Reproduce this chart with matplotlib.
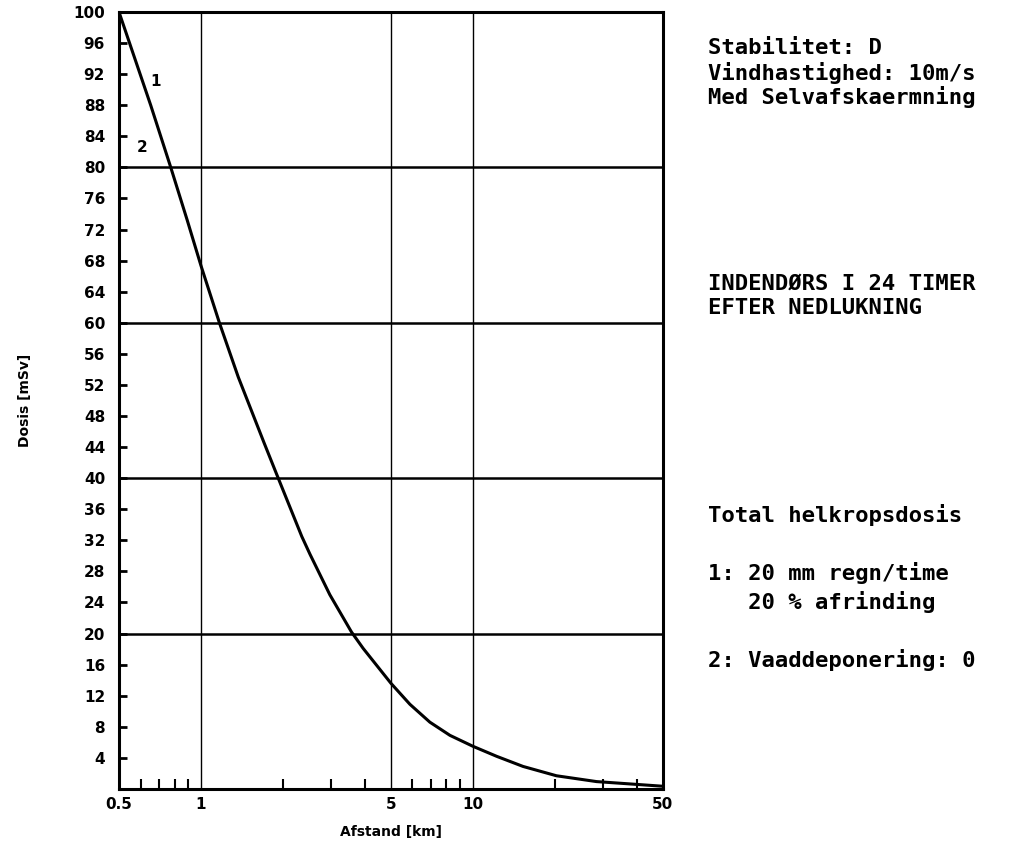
import matplotlib
matplotlib.use('Agg')
import matplotlib.pyplot as plt
from matplotlib.ticker import FixedLocator, NullFormatter

# distance [km] and total dose [mSv]
afstand = [0.5, 0.654, 0.775, 0.891, 1.0, 1.17, 1.373, 1.71, 1.9, 2.35,
           2.52, 2.98, 3.58, 3.95, 5.0, 5.87, 6.95, 8.24, 10.0, 12.24,
           15.3, 20.3, 28.5, 37.8, 50.0]
dosis = [100, 88, 80, 73.2, 67.4, 60, 53.0, 44.5, 40.5, 32.5,
         30.2, 25.0, 20.2, 18.1, 13.6, 10.9, 8.6, 6.9, 5.5, 4.2,
         2.9, 1.7, 0.95, 0.65, 0.35]

x_major = [0.5, 1, 5, 10, 50]
x_major_labels = ['0.5', '1', '5', '10', '50']
x_minor = [0.6, 0.7, 0.8, 0.9, 2, 3, 4, 6, 7, 8, 9, 20, 30, 40]
y_ticks = list(range(4, 101, 4))
h_lines = [20, 40, 60, 80]
v_lines = [1, 5, 10]

info_top = ['Stabilitet: D', 'Vindhastighed: 10m/s', 'Med Selvafskaermning']
info_mid = ['INDENDØRS I 24 TIMER', 'EFTER NEDLUKNING']
info_low = ['Total helkropsdosis', '', '1: 20 mm regn/time',
            '   20 % afrinding', '', '2: Vaaddeponering: 0']


def main():
    fig = plt.figure(figsize=(10.11, 8.5), dpi=100)
    ax = fig.add_axes([0.1177, 0.0718, 0.538, 0.9141])

    ax.set_xscale('log')
    ax.set_xlim(0.5, 50)
    ax.set_ylim(0, 100)

    for y in h_lines:
        ax.axhline(y, color='black', lw=1.8, zorder=1)
    for x in v_lines:
        ax.axvline(x, color='black', lw=1.0, zorder=1)

    ax.plot(afstand, dosis, color='black', lw=2.2, zorder=3,
            solid_joinstyle='round')

    ax.text(0.68, 91, '1', fontsize=11, fontweight='bold', ha='center', va='center')
    ax.text(0.61, 82.5, '2', fontsize=11, fontweight='bold', ha='center', va='center')

    for s in ax.spines.values():
        s.set_linewidth(2.2)

    ax.xaxis.set_major_locator(FixedLocator(x_major))
    ax.set_xticklabels(x_major_labels, fontsize=11, fontweight='bold')
    ax.xaxis.set_minor_locator(FixedLocator(x_minor))
    ax.xaxis.set_minor_formatter(NullFormatter())
    ax.tick_params(axis='x', which='major', direction='in', length=0, pad=6)
    ax.tick_params(axis='x', which='minor', direction='in', length=7, width=1.5)

    ax.set_yticks(y_ticks)
    ax.set_yticklabels([str(v) for v in y_ticks], fontsize=11, fontweight='bold')
    ax.tick_params(axis='y', direction='in', length=6, width=2, pad=10)

    ax.set_xlabel('Afstand [km]', fontsize=10, fontweight='bold', labelpad=9)
    ax.set_ylabel('Dosis [mSv]', fontsize=10, fontweight='bold', labelpad=30)

    tx = 708 / 1011
    mono = dict(family='DejaVu Sans Mono', fontsize=16, fontweight='bold',
                va='center', ha='left', transform=fig.transFigure)
    for i, line in enumerate(info_top):
        fig.text(tx, 1 - (48 + i * 24.5) / 850, line, **mono)
    for i, line in enumerate(info_mid):
        fig.text(tx, 1 - (284 + i * 24.5) / 850, line, **mono)
    for i, line in enumerate(info_low):
        if line:
            fig.text(tx, 1 - (515 + i * 29) / 850, line, **mono)

    fig.savefig('out.png', dpi=100)


if __name__ == '__main__':
    main()
